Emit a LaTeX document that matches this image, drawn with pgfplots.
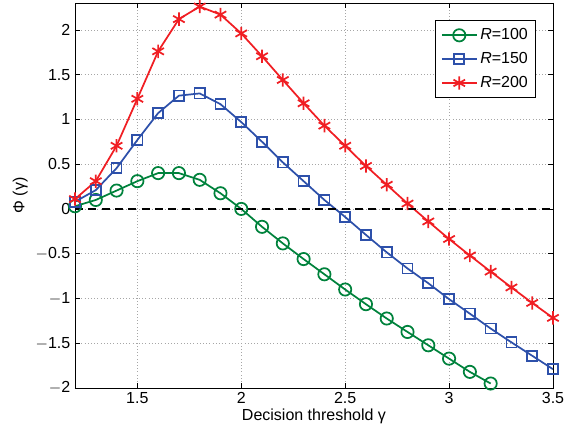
\documentclass[border=0pt]{standalone}
\usepackage{fontspec}
\setmainfont{Liberation Sans}
\usepackage{pgfplots}
\pgfplotsset{compat=1.18}
\usetikzlibrary{calc}

\definecolor{cgreen}{RGB}{0,130,60}
\definecolor{cblue}{RGB}{45,80,170}
\definecolor{cred}{RGB}{240,30,35}

\begin{document}
\begin{tikzpicture}[x=1pt,y=1pt]
\begin{axis}[
    scale only axis,
    width=358.5pt, height=288.75pt,
    xmin=1.2, xmax=3.5,
    ymin=-2, ymax=2.3,
    xtick={1.5,2,2.5,3,3.5},
    ytick={-2,-1.5,-1,-0.5,0,0.5,1,1.5,2},
    yticklabels={$-$2,$-$1.5,$-$1,$-$0.5,0,0.5,1,1.5,2},
    xticklabel style={/pgf/number format/assume math mode=true},
    yticklabel style={/pgf/number format/assume math mode=true},
    tick align=inside,
    tick style={black, thin},
    major tick length=4pt,
    grid=major,
    grid style={gray!70, dotted, line width=0.5pt},
    axis line style={black, line width=0.6pt},
    tick label style={font=\fontsize{12}{14}\selectfont},
    label style={font=\fontsize{12}{14}\selectfont},
    xlabel={Decision threshold γ},
    ylabel={Φ (γ)},
    xlabel style={yshift=3pt},
    ylabel style={yshift=-1pt},
    legend style={at={(rel axis cs:0.965,0.955)}, anchor=north east,
        draw=black, line width=0.6pt, font=\fontsize{12}{14}\selectfont,
        row sep=4pt, inner xsep=4pt, inner ysep=4pt},
    legend cell align=left,
    legend image code/.code={
        \draw[mark repeat=2,mark phase=2] plot coordinates {(0cm,0cm) (0.46cm,0cm) (0.92cm,0cm)};
    },
]
\addplot[cgreen, line width=1.3pt, mark=o, mark size=4.6pt, mark options={line width=1.3pt}]
coordinates {
(1.2,0.03) (1.3,0.10) (1.4,0.205) (1.5,0.31) (1.6,0.40) (1.7,0.40) (1.8,0.325)
(1.9,0.175) (2.0,0.0) (2.1,-0.2) (2.2,-0.385) (2.3,-0.56) (2.4,-0.73) (2.5,-0.90)
(2.6,-1.064) (2.7,-1.224) (2.8,-1.374) (2.9,-1.523) (3.0,-1.672) (3.1,-1.82) (3.2,-1.95)
};
\addlegendentry{\textit{R}=100}
\addplot[cblue, line width=1.3pt, mark=square, mark size=3.8pt, mark options={line width=1.3pt}]
coordinates {
(1.2,0.08) (1.3,0.21) (1.4,0.455) (1.5,0.77) (1.6,1.07) (1.7,1.265) (1.8,1.29)
(1.9,1.17) (2.0,0.97) (2.1,0.75) (2.2,0.52) (2.3,0.31) (2.4,0.10) (2.5,-0.09)
(2.6,-0.29) (2.7,-0.485) (2.8,-0.665) (2.9,-0.83) (3.0,-1.008) (3.1,-1.17)
(3.2,-1.336) (3.3,-1.49) (3.4,-1.64) (3.5,-1.79)
};
\addlegendentry{\textit{R}=150}
\addplot[cred, line width=1.3pt, mark=asterisk, mark size=5pt, mark options={line width=1.3pt}]
coordinates {
(1.2,0.11) (1.3,0.31) (1.4,0.705) (1.5,1.23) (1.6,1.76) (1.7,2.12) (1.8,2.26)
(1.9,2.17) (2.0,1.96) (2.1,1.705) (2.2,1.44) (2.3,1.18) (2.4,0.93) (2.5,0.705)
(2.6,0.48) (2.7,0.27) (2.8,0.06) (2.9,-0.14) (3.0,-0.336) (3.1,-0.52)
(3.2,-0.70) (3.3,-0.877) (3.4,-1.05) (3.5,-1.217)
};
\addlegendentry{\textit{R}=200}
\addplot[black, line width=1.4pt, dash pattern=on 6pt off 4pt, forget plot] coordinates {(1.2,0) (3.5,0)};
\end{axis}
\pgfresetboundingbox
\path[use as bounding box] ($(current axis.south west)+(-56.25pt,-34.5pt)$) rectangle ($(current axis.north east)+(16.5pt,2.25pt)$);
\end{tikzpicture}
\end{document}
